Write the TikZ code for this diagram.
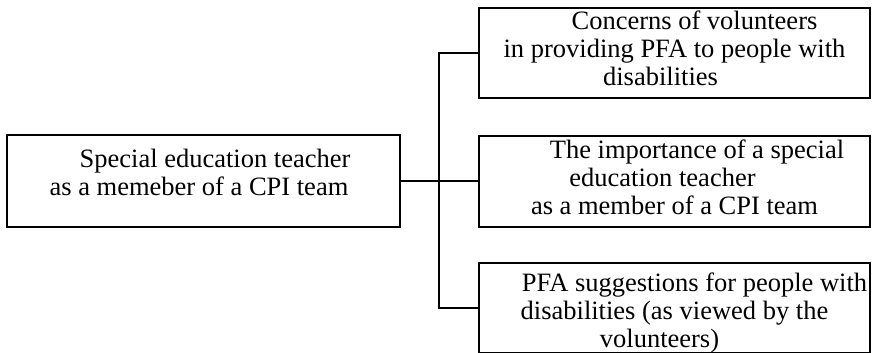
\documentclass[tikz,border=0pt]{standalone}
\usepackage{fontspec}
\setmainfont{Liberation Serif}

\tikzset{
  topic/.style={draw=black, line width=2pt, rectangle, minimum width=391pt, minimum height=90pt, inner sep=0pt},
  topictext/.style={font=\fontsize{26.5}{28}\selectfont, align=center, inner sep=0pt},
  branch/.style={black, line width=2pt}
}

\begin{document}
\begin{tikzpicture}[x=1pt,y=-1pt]
\useasboundingbox (0,0) rectangle (875,353);
% main topic
\node[topic, minimum width=393pt, minimum height=92pt] (teacher) at (203.5,181) {};
\node[topictext, yshift=5.6pt] (teachertxt) at (teacher.center) {\strut\hspace*{23pt}Special education teacher\\ \strut as a memeber of a CPI team\hspace*{9pt}\null};
% sub topics
\node[topic] (concerns) at (674.5,53) {};
\node[topictext, yshift=1pt] (concernstxt) at (concerns.center) {\strut\hspace*{40pt}Concerns of volunteers\\ \strut in providing PFA to people with\\ \strut disabilities\hspace*{28pt}\null};
\node[topic, minimum height=91pt] (importance) at (674.5,181) {};
\node[topictext] (importancetxt) at (importance.center) {\strut\hspace*{45pt}The importance of a special\\ \strut education teacher\hspace*{24pt}\null\\ \strut as a member of a CPI team};
\node[topic] (suggestions) at (674.5,308) {};
\node[topictext, yshift=-5.5pt] (suggestionstxt) at (suggestions.center) {\strut\hspace*{40pt}PFA suggestions for people with\\ \strut disabilities (as viewed by the\\ \strut volunteers)\hspace*{30pt}\null};
% connectors
\coordinate (split) at (439,181);
\draw[branch] (teacher.east) -- (split);
\draw[branch] (concerns.west) -| (split) |- (suggestions.west);
\draw[branch] (split) -- (importance.west);
\end{tikzpicture}
\end{document}
